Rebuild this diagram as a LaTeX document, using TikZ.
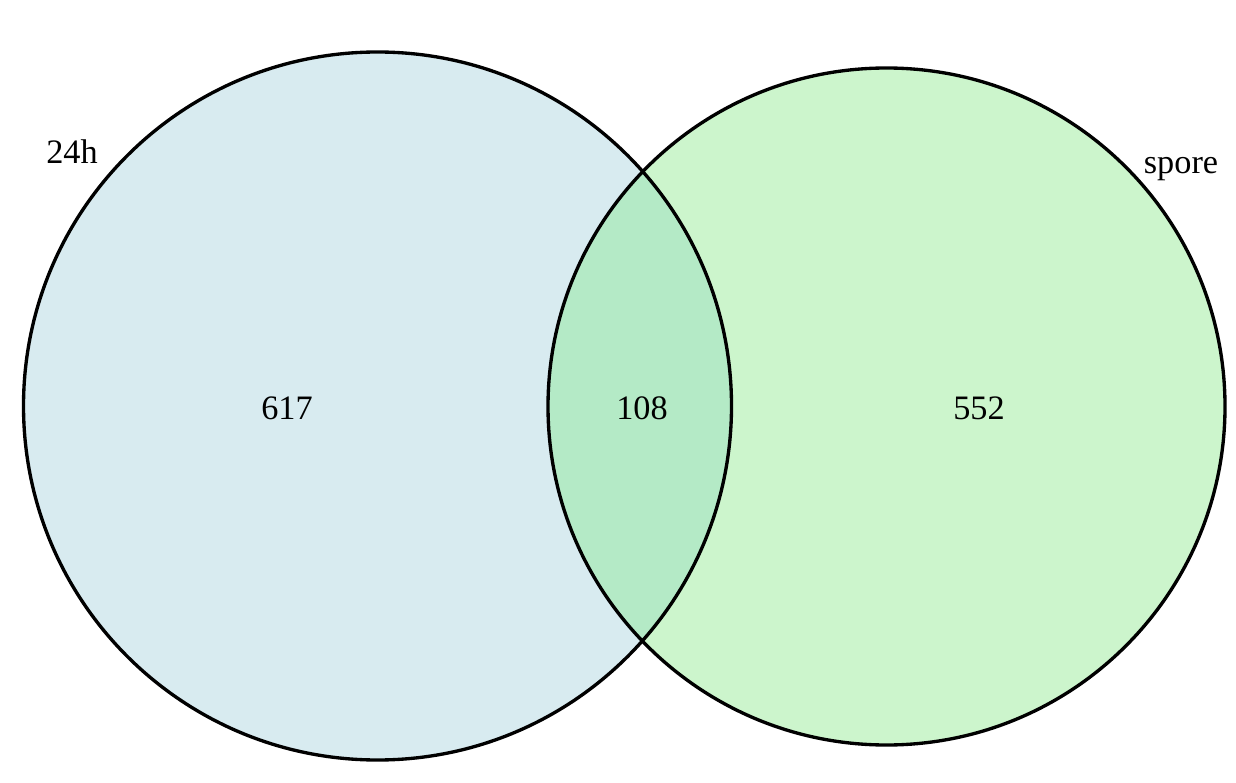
\documentclass[tikz,border=0pt]{standalone}
\usepackage{fontspec}
\setmainfont{Liberation Serif}
\usetikzlibrary{calc, positioning}
\definecolor{setA}{HTML}{D8EBF0}
\definecolor{setB}{HTML}{CCF5CC}
\definecolor{setAB}{HTML}{B4EAC6}
\tikzset{
    venn circle/.style={line width=1.9pt, draw=black},
    venn text/.style={font=\fontsize{19.5}{23}\selectfont, inner sep=0pt},
}
\begin{document}
\begin{tikzpicture}
\useasboundingbox (0,0) rectangle (24.72,15.64);

\coordinate (c24h) at (7.55, 7.52);
\coordinate (cspore) at (17.73, 7.51);

% fills
\fill[setA] (c24h) circle (7.08);
\fill[setB] (cspore) circle (6.77);
\begin{scope}
    \clip (c24h) circle (7.08);
    \fill[setAB] (cspore) circle (6.77);
\end{scope}

% outlines
\draw[venn circle] (c24h) circle (7.08);
\draw[venn circle] (cspore) circle (6.77);

\node[venn text] (n24h) at (1.44, 12.60) {24h};
\node[venn text] (nspore) at (23.62, 12.26) {spore};
\node[venn text] (only24h) at (5.74, 7.48) {617};
\node[venn text] (both) at (12.84, 7.48) {108};
\node[venn text] (onlyspore) at (19.58, 7.48) {552};

\end{tikzpicture}
\end{document}
